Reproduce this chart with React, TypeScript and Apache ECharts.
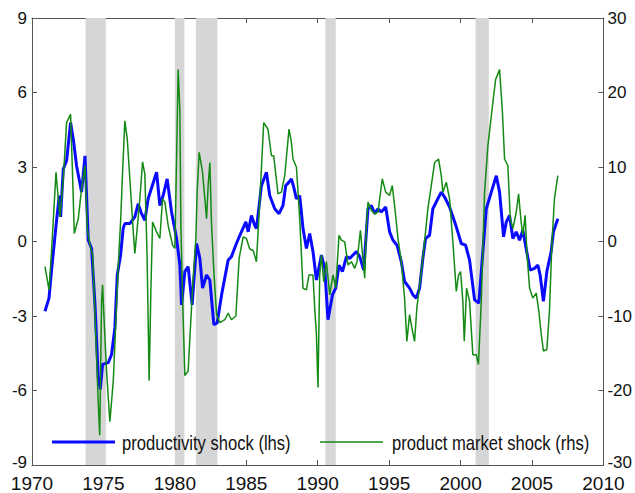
import React, { useEffect, useRef } from "react";
import * as echarts from "echarts";

// productivity shock (lhs)
const prodYears = [
  1970.91, 1971.19, 1971.38, 1971.72, 1971.91, 1972.0, 1972.19, 1972.42, 1972.7, 1972.89,
  1973.12, 1973.47, 1973.71, 1973.94, 1974.17, 1974.41, 1974.64, 1974.78, 1974.94, 1975.34,
  1975.57, 1975.8, 1975.97, 1976.2, 1976.38, 1976.5, 1976.85, 1977.2, 1977.43, 1977.67,
  1977.9, 1978.13, 1978.72, 1978.95, 1979.18, 1979.46, 1979.77, 1980.12, 1980.35, 1980.47,
  1980.7, 1980.93, 1981.21, 1981.52, 1981.75, 1981.94, 1982.22, 1982.45, 1982.73, 1982.96,
  1983.27, 1983.73, 1983.96, 1984.31, 1984.55, 1984.97, 1985.13, 1985.36, 1985.59, 1985.71,
  1986.06, 1986.41, 1986.64, 1986.99, 1987.29, 1987.57, 1987.76, 1987.99, 1988.16, 1988.32,
  1988.51, 1988.74, 1988.97, 1989.21, 1989.44, 1989.67, 1989.91, 1990.26, 1990.49, 1990.72,
  1991.03, 1991.26, 1991.49, 1991.73, 1992.01, 1992.24, 1992.71, 1992.94, 1993.22, 1993.52,
  1993.76, 1993.99, 1994.22, 1994.45, 1994.76, 1995.03, 1995.27, 1995.55, 1995.85, 1996.08,
  1996.43, 1996.67, 1996.9, 1997.13, 1997.36, 1997.55, 1997.83, 1998.06, 1998.41, 1998.65,
  1998.88, 1999.23, 1999.7, 2000.05, 2000.35, 2000.63, 2000.98, 2001.28, 2001.56, 2001.8,
  2002.15, 2002.5, 2002.73, 2003.01, 2003.2, 2003.43, 2003.66, 2003.9, 2004.13, 2004.36,
  2004.59, 2004.87, 2005.17, 2005.41, 2005.57, 2005.8, 2006.04, 2006.34, 2006.5, 2006.81,
];
const prodValues = [
  -2.81, -2.28, -1.08, 0.85, 1.85, 0.99, 2.92, 3.25, 4.79, 4.12,
  3.05, 1.99, 3.45, 0.05, -0.28, -2.55, -5.48, -5.95, -4.95, -4.88,
  -4.55, -3.48, -1.35, -0.55, 0.52, 0.72, 0.72, 0.99, 1.52, 1.12,
  0.85, 1.72, 2.79, 1.45, 1.85, 2.52, 1.19, 0.12, -0.95, -2.55,
  -1.21, -1.01, -2.55, -0.08, -0.68, -1.88, -1.35, -1.55, -3.35, -3.28,
  -2.15, -0.75, -0.61, -0.08, 0.25, 0.79, 0.39, 1.05, 0.65, 0.52,
  2.25, 2.79, 1.85, 1.32, 1.12, 1.45, 2.25, 2.39, 2.52, 2.19,
  1.72, 1.85, 0.52, -0.28, 0.32, -0.41, -1.55, -0.55, -1.08, -3.15,
  -2.15, -1.88, -0.95, -1.21, -0.61, -0.68, -0.41, -0.61, -1.15, 1.32,
  1.45, 1.12, 1.32, 1.19, 1.39, 0.39, 0.05, -0.15, -0.81, -1.61,
  -1.88, -2.15, -2.28, -1.88, -0.68, 0.12, 0.25, 1.32, 1.72, 1.99,
  1.79, 1.39, 0.59, -0.08, -0.15, -0.75, -2.35, -2.48, -0.41, 1.32,
  1.99, 2.65, 1.99, 0.19, 0.79, 1.05, 0.12, 0.39, 0.05, 0.45,
  -0.28, -1.15, -1.08, -0.95, -1.35, -2.41, -1.21, -0.41, 0.39, 0.92,
];

// product market shock (rhs)
const marketYears = [
  1970.91, 1971.19, 1971.38, 1971.68, 1971.84, 1971.96, 1972.19, 1972.42, 1972.7, 1972.82,
  1972.96, 1973.24, 1973.47, 1973.71, 1973.87, 1974.06, 1974.24, 1974.41, 1974.64, 1974.74,
  1974.87, 1974.94, 1975.03, 1975.22, 1975.45, 1975.69, 1975.87, 1976.04, 1976.2, 1976.34,
  1976.5, 1976.67, 1976.85, 1977.09, 1977.2, 1977.32, 1977.55, 1977.74, 1977.9, 1978.06,
  1978.2, 1978.32, 1978.44, 1978.72, 1978.95, 1979.14, 1979.3, 1979.53, 1979.84, 1980.0,
  1980.12, 1980.23, 1980.35, 1980.42, 1980.54, 1980.7, 1980.93, 1981.1, 1981.28, 1981.47,
  1981.56, 1981.7, 1981.94, 1982.1, 1982.22, 1982.33, 1982.45, 1982.57, 1982.73, 1982.92,
  1983.15, 1983.5, 1983.73, 1983.96, 1984.27, 1984.5, 1984.78, 1985.01, 1985.24, 1985.48,
  1985.71, 1985.94, 1986.22, 1986.52, 1986.76, 1986.92, 1987.22, 1987.46, 1987.69, 1987.99,
  1988.16, 1988.27, 1988.51, 1988.74, 1988.97, 1989.21, 1989.39, 1989.67, 1989.79, 1989.91,
  1990.02, 1990.14, 1990.26, 1990.42, 1990.61, 1990.84, 1991.07, 1991.26, 1991.49, 1991.66,
  1991.89, 1992.12, 1992.36, 1992.59, 1992.75, 1992.99, 1993.12, 1993.29, 1993.41, 1993.52,
  1993.76, 1993.99, 1994.22, 1994.52, 1994.76, 1995.03, 1995.22, 1995.38, 1995.62, 1995.85,
  1996.08, 1996.24, 1996.43, 1996.59, 1996.78, 1996.94, 1997.25, 1997.48, 1997.71, 1997.95,
  1998.18, 1998.46, 1998.65, 1998.76, 1999.0, 1999.23, 1999.46, 1999.7, 1999.86, 2000.0,
  2000.16, 2000.26, 2000.42, 2000.63, 2000.86, 2001.1, 2001.25, 2001.45, 2001.68, 2001.91,
  2002.15, 2002.45, 2002.73, 2002.92, 2003.08, 2003.31, 2003.48, 2003.66, 2003.9, 2004.06,
  2004.24, 2004.36, 2004.52, 2004.64, 2004.83, 2005.06, 2005.3, 2005.48, 2005.65, 2005.8,
  2006.04, 2006.22, 2006.39, 2006.57, 2006.81,
];
const marketValues = [
  -3.37, -6.49, -0.93, 9.29, 5.73, 3.29, 8.4, 15.96, 17.07, 10.17,
  1.07, 3.07, 7.07, 10.17, 1.73, -0.49, -1.82, -9.83, -21.8, -26.0,
  -8.04, -5.82, -9.82, -17.4, -24.2, -18.7, -10.7, -3.16, 2.62, 9.29,
  16.2, 13.73, 8.4, 1.29, -1.6, 0.84, 5.73, 10.7, 9.0, -2.27,
  -18.7, -6.7, 2.62, 1.29, 0.4, 5.73, 5.29, 2.18, -0.49, -0.93,
  11.07, 23.07, 17.7, 2.18, -7.6, -18.0, -17.4, -11.2, -4.93, 0.4,
  6.62, 11.96, 9.29, 5.73, 3.07, 7.51, 10.6, 2.18, -4.04, -9.82,
  -10.9, -10.5, -9.6, -10.5, -10.0, -2.27, 0.62, 0.4, -1.0, -1.2,
  -2.71, 5.29, 15.96, 15.07, 11.51, 11.5, 6.4, 6.62, 8.84, 15.07,
  13.29, 11.07, 9.96, 3.07, -6.27, -6.49, -4.49, -4.49, -8.93, -12.5,
  -19.6, -4.49, -1.82, -5.38, -2.71, -7.16, -4.49, -6.27, 0.84, 0.18,
  -0.04, -3.16, -2.71, -3.6, -2.71, 1.51, -1.38, -4.93, 2.18, 5.29,
  4.18, 3.73, 3.96, 8.4, 6.62, 6.18, 7.51, 4.84, 0.4, -2.71,
  -7.6, -13.4, -9.82, -11.6, -13.4, -8.93, -4.04, -0.04, 4.4, 7.51,
  10.6, 11.07, 8.84, 6.62, 7.96, 5.73, -0.04, -6.71, -4.49, -4.04,
  -8.04, -13.4, -6.27, -8.04, -15.2, -15.2, -16.5, -8.0, 6.62, 12.84,
  16.84, 21.73, 23.07, 17.73, 11.07, 10.17, 3.07, 1.73, 3.96, 6.4,
  2.62, 0.84, 3.51, -1.38, -6.27, -7.6, -6.93, -9.38, -12.5, -14.7,
  -14.5, -9.38, -0.49, 5.73, 8.84,
];

// recession periods (shaded)
const recessionStarts = [1973.75, 1980.0, 1981.47, 1990.54, 2001.05];
const recessionEnds = [1975.17, 1980.67, 1982.98, 1991.26, 2001.98];

const seriesNames = ["productivity shock (lhs)", "product market shock (rhs)"];
const seriesColors = ["#0a0aff", "#138a13"];

const FONT = "Arial, 'Liberation Sans', sans-serif";

export default function App() {
  const ref = useRef<HTMLDivElement>(null);

  useEffect(() => {
    document.body.style.margin = "0";
    if (!ref.current) return;
    const chart = echarts.init(ref.current, undefined, { renderer: "svg" });

    const axisLineStyle = { color: "#555", width: 1 };
    const legendText = (x: number, text: string) => ({
      type: "text",
      x,
      y: 443,
      scaleX: 0.83,
      z: 10,
      style: {
        text,
        fontFamily: FONT,
        fontSize: 20,
        fill: "#111",
        verticalAlign: "middle",
        align: "left",
      },
    });
    const yLabel = (min: number, margin: number) => ({
      fontFamily: FONT,
      fontSize: 17,
      color: "#111",
      margin,
      formatter: (v: number) => (v === min ? `{lo|${v}}` : `${v}`),
      rich: { lo: { fontFamily: FONT, fontSize: 17, color: "#111", padding: [0, 0, 5, 0] } },
    });

    chart.setOption({
      animation: false,
      backgroundColor: "#fff",
      grid: { left: 32, right: 31, top: 18, bottom: 25 },
      graphic: [
        {
          type: "line",
          z: 10,
          shape: { x1: 52, y1: 442, x2: 115, y2: 442 },
          style: { stroke: seriesColors[0], lineWidth: 3 },
        },
        legendText(122, seriesNames[0]),
        {
          type: "line",
          z: 10,
          shape: { x1: 320, y1: 442, x2: 383, y2: 442 },
          style: { stroke: seriesColors[1], lineWidth: 1.5 },
        },
        legendText(392, seriesNames[1]),
      ],
      xAxis: [
        {
          type: "value",
          min: 1970,
          max: 2010,
          interval: 5,
          position: "bottom",
          axisLine: { show: true, onZero: false, lineStyle: axisLineStyle },
          axisTick: { show: true, inside: true, length: 5, lineStyle: axisLineStyle },
          axisLabel: {
            fontFamily: FONT,
            fontSize: 19,
            color: "#111",
            margin: 9,
            formatter: (v: number) => String(v),
          },
          splitLine: { show: false },
        },
        {
          type: "value",
          min: 1970,
          max: 2010,
          interval: 5,
          position: "top",
          axisLine: { show: true, onZero: false, lineStyle: axisLineStyle },
          axisTick: { show: true, inside: true, length: 5, lineStyle: axisLineStyle },
          axisLabel: { show: false },
          splitLine: { show: false },
        },
      ],
      yAxis: [
        {
          type: "value",
          min: -9,
          max: 9,
          interval: 3,
          position: "left",
          axisLine: { show: true, onZero: false, lineStyle: axisLineStyle },
          axisTick: { show: true, inside: true, length: 5, lineStyle: axisLineStyle },
          axisLabel: yLabel(-9, 5),
          splitLine: { show: false },
        },
        {
          type: "value",
          min: -30,
          max: 30,
          interval: 10,
          position: "right",
          axisLine: { show: true, onZero: false, lineStyle: axisLineStyle },
          axisTick: { show: true, inside: true, length: 5, lineStyle: axisLineStyle },
          axisLabel: yLabel(-30, 4),
          splitLine: { show: false },
        },
      ],
      series: [
        {
          name: "recessions",
          type: "line",
          data: [],
          z: 1,
          silent: true,
          markArea: {
            silent: true,
            itemStyle: { color: "#d6d6d6" },
            data: recessionStarts.map((s, i) => [{ xAxis: s }, { xAxis: recessionEnds[i] }]),
          },
        },
        {
          name: seriesNames[0],
          type: "line",
          xAxisIndex: 0,
          yAxisIndex: 0,
          data: prodYears.map((y, i) => [y, prodValues[i]]),
          showSymbol: false,
          symbol: "none",
          color: seriesColors[0],
          lineStyle: { color: seriesColors[0], width: 3 },
          z: 3,
        },
        {
          name: seriesNames[1],
          type: "line",
          xAxisIndex: 0,
          yAxisIndex: 1,
          data: marketYears.map((y, i) => [y, marketValues[i]]),
          showSymbol: false,
          symbol: "none",
          color: seriesColors[1],
          lineStyle: { color: seriesColors[1], width: 1.5 },
          z: 4,
        },
      ],
    });

    return () => chart.dispose();
  }, []);

  return <div ref={ref} style={{ width: 635, height: 493 }} />;
}
